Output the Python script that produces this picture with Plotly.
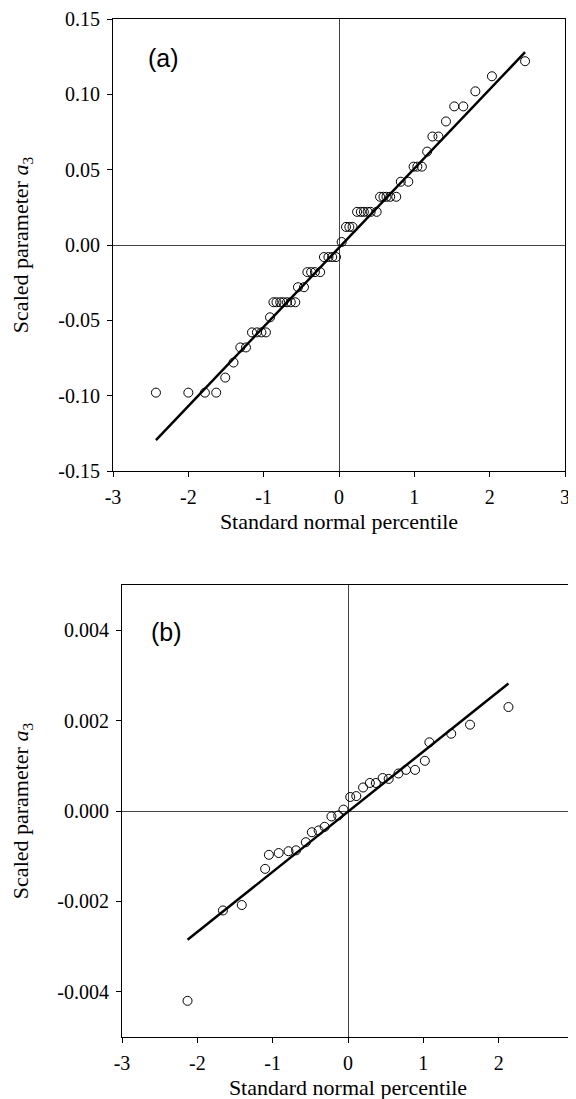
import plotly.graph_objects as go

# Panel (a) data: standard normal percentile vs scaled parameter a3
a_x = [-2.43, -2.00, -1.78, -1.63, -1.51, -1.40, -1.31, -1.235,
       -1.155, -1.09, -1.03, -0.97, -0.916,
       -0.87, -0.83, -0.78, -0.74, -0.69, -0.64, -0.58,
       -0.545, -0.465, -0.42, -0.37, -0.32, -0.25,
       -0.20, -0.14, -0.09, -0.04, 0.035,
       0.093, 0.137, 0.18,
       0.24, 0.29, 0.33, 0.38, 0.42, 0.50,
       0.545, 0.59, 0.63, 0.68, 0.76,
       0.82, 0.92, 0.99, 1.04, 1.10, 1.17, 1.24, 1.32, 1.42,
       1.53, 1.65, 1.81, 2.03, 2.47]
a_y = [-0.098, -0.098, -0.098, -0.098, -0.088, -0.078, -0.068, -0.068,
       -0.058, -0.058, -0.058, -0.058, -0.048,
       -0.038, -0.038, -0.038, -0.038, -0.038, -0.038, -0.038,
       -0.028, -0.028, -0.018, -0.018, -0.018, -0.018,
       -0.008, -0.008, -0.008, -0.008, 0.002,
       0.012, 0.012, 0.012,
       0.022, 0.022, 0.022, 0.022, 0.022, 0.022,
       0.032, 0.032, 0.032, 0.032, 0.032,
       0.042, 0.042, 0.052, 0.052, 0.052, 0.062, 0.072, 0.072, 0.082,
       0.092, 0.092, 0.102, 0.112, 0.122]
a_fit_x = [-2.43, 2.47]
a_fit_y = [-0.1295, 0.1280]

# Panel (b) data
b_x = [-2.13, -1.66, -1.41, -1.10, -1.05, -0.92, -0.79, -0.69, -0.56, -0.48,
       -0.39, -0.31, -0.22, -0.13, -0.06, 0.03, 0.11, 0.20, 0.29, 0.37,
       0.46, 0.54, 0.67, 0.77, 0.89, 1.02, 1.08, 1.37, 1.62, 2.13]
b_y = [-0.0042, -0.0022, -0.00208, -0.00128, -0.00097, -0.00093, -0.00089, -0.00087,
       -0.00069, -0.00047, -0.00043, -0.00035, -0.00012, -0.0001, 0.00003,
       0.00031, 0.00033, 0.00052, 0.00062, 0.00062, 0.00073, 0.00071, 0.00083,
       0.00091, 0.00091, 0.00111, 0.00152, 0.00171, 0.00191, 0.0023]
b_fit_x = [-2.13, 2.13]
b_fit_y = [-0.00285, 0.00282]

x_ticks = [-3, -2, -1, 0, 1, 2, 3]
a_yticks = [-0.15, -0.10, -0.05, 0.00, 0.05, 0.10, 0.15]
b_yticks = [-0.004, -0.002, 0.000, 0.002, 0.004]

FONT = "Liberation Serif"

fig = go.Figure()
fig.add_trace(go.Scatter(x=a_x, y=a_y, mode="markers", xaxis="x", yaxis="y",
                         marker=dict(symbol="circle-open", size=9, color="black",
                                     line=dict(width=1, color="black")),
                         showlegend=False))
fig.add_trace(go.Scatter(x=a_fit_x, y=a_fit_y, mode="lines", xaxis="x", yaxis="y",
                         line=dict(color="black", width=2.5), showlegend=False))
fig.add_trace(go.Scatter(x=b_x, y=b_y, mode="markers", xaxis="x2", yaxis="y2",
                         marker=dict(symbol="circle-open", size=9, color="black",
                                     line=dict(width=1, color="black")),
                         showlegend=False))
fig.add_trace(go.Scatter(x=b_fit_x, y=b_fit_y, mode="lines", xaxis="x2", yaxis="y2",
                         line=dict(color="black", width=2.5), showlegend=False))

axis_common = dict(showgrid=False, showline=True, linecolor="black", linewidth=1,
                   mirror=True, ticks="outside", ticklen=5, tickwidth=1,
                   tickcolor="black", zeroline=True, zerolinecolor="#444",
                   zerolinewidth=1, automargin=False, ticklabeloverflow="allow",
                   tickfont=dict(family=FONT, size=20, color="black"))

ytitle = dict(text="Scaled parameter <i>a</i><sub>3</sub>",
              font=dict(family=FONT, size=22, color="black"), standoff=26)
xtitle = dict(text="Standard normal percentile",
              font=dict(family=FONT, size=22, color="black"), standoff=6)

# page has an 8px body margin; target page positions are converted to figure coords
OFF = 8
FW, FH = 576, 1099
px_left, px_right, px_top, px_bottom = 113 - OFF, 574 - OFF, 19 - OFF, 1037 - OFF
L, R, T, B = px_left, FW - px_right, px_top, FH - px_bottom
W = px_right - px_left
H = px_bottom - px_top


def xd(a, b):
    return [(a - OFF - px_left) / W, (b - OFF - px_left) / W]


def yd(top, bottom):
    return [(px_bottom - (bottom - OFF)) / H, (px_bottom - (top - OFF)) / H]


def px(x):
    return (x - OFF - px_left) / W


def py(y):
    return (px_bottom - (y - OFF)) / H


fig.update_layout(
    width=FW, height=FH, margin=dict(l=L, r=R, t=T, b=B, autoexpand=False),
    paper_bgcolor="white", plot_bgcolor="white",
    xaxis=dict(axis_common, domain=xd(113, 565), range=[-3, 3],
               tickvals=x_ticks, ticktext=[str(v) for v in x_ticks],
               anchor="y", title=xtitle, ticklabelstandoff=3),
    yaxis=dict(axis_common, domain=yd(19, 471), range=[-0.15, 0.15],
               tickvals=a_yticks, ticktext=[f"{v:.2f}" for v in a_yticks],
               anchor="x", title=ytitle, ticklabelstandoff=3),
    xaxis2=dict(axis_common, domain=xd(122, 574), range=[-3, 3],
                tickvals=x_ticks, ticktext=[str(v) for v in x_ticks],
                anchor="y2", title=xtitle, ticklabelstandoff=3),
    yaxis2=dict(axis_common, domain=yd(585, 1037), range=[-0.005, 0.005],
                tickvals=b_yticks, ticktext=[f"{v:.3f}" for v in b_yticks],
                anchor="x2", title=ytitle, ticklabelstandoff=3),
    annotations=[
        dict(text="(a)", x=px(163), y=py(58), xref="paper", yref="paper",
             xanchor="center", yanchor="middle",
             showarrow=False, font=dict(family="Liberation Sans", size=25, color="black")),
        dict(text="(b)", x=px(166), y=py(632), xref="paper", yref="paper",
             xanchor="center", yanchor="middle",
             showarrow=False, font=dict(family="Liberation Sans", size=25, color="black")),
    ],
)

fig.write_html("out.html")
